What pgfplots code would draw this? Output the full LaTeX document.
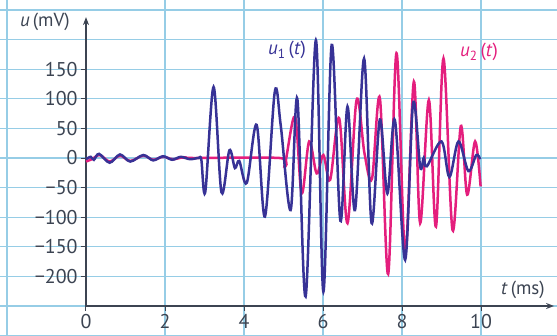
\documentclass[border=0pt]{standalone}
\usepackage{fontspec}
\setmainfont{PT Sans}
\usepackage{pgfplots}
\pgfplotsset{compat=1.18}
\usetikzlibrary{arrows.meta}
\definecolor{gridc}{RGB}{150,205,230}
\definecolor{axc}{RGB}{60,68,82}
\definecolor{uone}{RGB}{55,50,150}
\definecolor{utwo}{RGB}{228,30,125}
\begin{document}
\begin{tikzpicture}
\fill[white] (-86bp,-178bp) rectangle (471bp,158bp);
% background grid
\begin{axis}[
  anchor=origin, at={(0,0)},
  x=39.5bp, y=0.592bp,
  xmin=-2.177, xmax=11.92, ymin=-300.7, ymax=266.9,
  axis line style={draw=none},
  xtick={-2,2,4,6,8,10}, ytick={-300,-250,...,250},
  xticklabels={}, yticklabels={},
  major tick length=0pt,
  grid=major, grid style={gridc, line width=1.1bp},
]
\end{axis}
% data axis
\begin{axis}[
  anchor=origin, at={(0,0)},
  x=39.5bp, y=0.592bp,
  xmin=0, xmax=11.85, ymin=-250, ymax=238,
  axis x line=bottom, axis y line=left,
  axis line style={axc, line width=1.4bp, -{Stealth[length=8bp,width=6bp]}},
  xtick={0,2,4,6,8,10}, ytick={-200,-150,-100,-50,0,50,100,150},
  xticklabels={0,2,4,6,8,10},
  yticklabels={−200,−150,−100,−50,0,50,100,150},
  tick style={axc, line width=1bp},
  tick align=outside, major tick length=5bp,
  ticklabel style={font=\fontsize{20}{22}\selectfont, text=axc},
  clip=false,
]
\addplot[utwo, line width=2.5bp, smooth, tension=0.55] coordinates {
(0,-6) (0.15,-2) (0.35,5) (0.6,-6) (0.86,4) (1.12,-5) (1.45,4) (1.7,-3) (1.95,2) (2.2,-2) (2.45,1) (2.7,0) (4.9,0) (5.03,-12) (5.29,70) (5.46,-60) (5.65,28) (5.84,-26) (6.01,5) (6.18,-37) (6.41,67) (6.62,-110) (6.85,98) (7.05,8) (7.24,-35) (7.44,101) (7.65,-196) (7.86,177) (8.08,-160) (8.30,129) (8.46,-110) (8.68,98) (8.86,-116) (9.05,168) (9.28,-122) (9.49,54) (9.65,-62) (9.85,28) (9.99,-48)
};
\addplot[uone, line width=2.5bp, smooth, tension=0.55] coordinates {
(0,-2) (0.12,2) (0.2,-3) (0.33,7) (0.6,-8) (0.86,6) (1.12,-6) (1.45,5) (1.7,-4) (1.95,3) (2.18,-3) (2.4,2) (2.63,-2) (2.85,0) (2.92,-3) (3.02,-57) (3.23,120) (3.43,-58) (3.63,13) (3.77,-17) (3.88,-5) (4.07,-42) (4.32,56) (4.53,-99) (4.78,112) (4.93,55) (5.18,-88) (5.35,100) (5.56,-234) (5.82,199) (6.01,-226) (6.22,191) (6.44,-106) (6.62,87) (6.81,-88) (7.04,168) (7.23,-110) (7.44,65) (7.63,-60) (7.82,64) (8.08,-172) (8.28,92) (8.46,-15) (8.55,0) (8.63,-14) (9.0,28) (9.2,-32) (9.43,28) (9.68,-22) (9.88,5) (9.98,-2)
};
\node[font=\fontsize{19}{22}\selectfont, text=axc] at (axis cs:-1.04,230) {\textit{u}\,(mV)};
\node[font=\fontsize{19}{22}\selectfont, text=axc] at (axis cs:11.06,-223) {\textit{t}\,(ms)};
\node[font=\fontsize{19}{22}\selectfont, text=uone] at (axis cs:5.09,182) {\textit{u}\textsubscript{1}\,(\textit{t})};
\node[font=\fontsize{19}{22}\selectfont, text=utwo] at (axis cs:9.95,179) {\textit{u}\textsubscript{2}\,(\textit{t})};
\end{axis}
\pgfresetboundingbox
\useasboundingbox (-86bp,-178bp) rectangle (471bp,158bp);
\end{tikzpicture}
\end{document}
